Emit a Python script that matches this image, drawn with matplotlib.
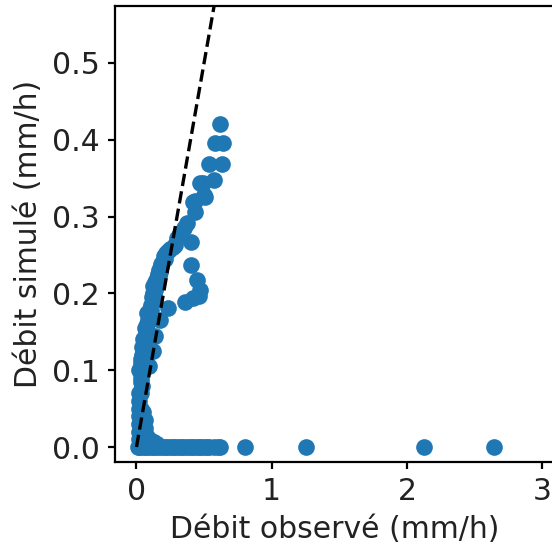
import matplotlib
matplotlib.use('Agg')
import matplotlib.pyplot as plt

# debits horaires (mm/h) lus sur le graphique
# montee de crue : branche gauche
obs_montee = [0.01, 0.02, 0.02, 0.02, 0.03, 0.02, 0.03, 0.02, 0.03, 0.04, 0.03, 0.04,
              0.02, 0.03, 0.04, 0.05, 0.04, 0.06, 0.05, 0.07, 0.06, 0.08, 0.09, 0.08,
              0.10, 0.11, 0.12, 0.13, 0.12, 0.14, 0.15, 0.16, 0.17, 0.18, 0.19, 0.21,
              0.22, 0.25, 0.285, 0.32,
              0.02, 0.02, 0.03, 0.03, 0.03, 0.04, 0.05, 0.06, 0.07, 0.075, 0.085, 0.095,
              0.105, 0.115, 0.125, 0.135, 0.145, 0.155, 0.165, 0.175, 0.185, 0.20, 0.23, 0.27]
sim_montee = [0.0, 0.01, 0.02, 0.03, 0.03, 0.05, 0.05, 0.07, 0.07, 0.08, 0.09, 0.10,
              0.10, 0.11, 0.12, 0.12, 0.13, 0.13, 0.14, 0.15, 0.155, 0.16, 0.17, 0.175,
              0.18, 0.185, 0.19, 0.20, 0.21, 0.215, 0.22, 0.225, 0.23, 0.235, 0.24, 0.245,
              0.252, 0.258, 0.263, 0.278,
              0.04, 0.06, 0.085, 0.015, 0.115, 0.105, 0.125, 0.14, 0.145, 0.16, 0.165, 0.17,
              0.178, 0.195, 0.20, 0.205, 0.21, 0.218, 0.222, 0.228, 0.238, 0.248, 0.255, 0.26]

# decrue : points en haut a droite
obs_decrue = [0.62, 0.58, 0.64, 0.54, 0.63, 0.57, 0.49, 0.47, 0.50, 0.43, 0.51, 0.42,
              0.43, 0.376, 0.40, 0.40, 0.445, 0.47, 0.46, 0.42, 0.36, 0.235, 0.174, 0.137,
              0.12, 0.09, 0.35, 0.30]
sim_decrue = [0.42, 0.396, 0.396, 0.368, 0.368, 0.347, 0.343, 0.343, 0.328, 0.32, 0.326, 0.319,
              0.306, 0.291, 0.267, 0.237, 0.217, 0.204, 0.196, 0.194, 0.189, 0.181, 0.165, 0.144,
              0.125, 0.105, 0.285, 0.272]

# periodes ou le modele ne simule presque rien
obs_nul = [0.02, 0.04, 0.06, 0.08, 0.10, 0.12, 0.14, 0.16, 0.18, 0.20, 0.22, 0.24,
           0.26, 0.28, 0.30, 0.32, 0.34, 0.36, 0.38, 0.40, 0.42, 0.44, 0.46, 0.48,
           0.50, 0.52, 0.54, 0.57, 0.60, 0.62, 0.80, 1.254, 2.129, 2.644,
           0.05, 0.06, 0.065, 0.07, 0.09, 0.11, 0.13, 0.15, 0.04, 0.08]
sim_nul = [0.0, 0.0, 0.0, 0.0, 0.0, 0.0, 0.0, 0.0, 0.0, 0.0, 0.0, 0.0,
           0.0, 0.0, 0.0, 0.0, 0.0, 0.0, 0.0, 0.0, 0.0, 0.0, 0.0, 0.0,
           0.0, 0.0, 0.0, 0.0, 0.0, 0.0, 0.0, 0.0, 0.0, 0.0,
           0.045, 0.035, 0.025, 0.015, 0.01, 0.008, 0.006, 0.004, 0.002, 0.003]

diag = [0, 1]


def plot():
    fig = plt.figure(figsize=(5.52, 5.47), dpi=100)
    ax = fig.add_axes([0.2083, 0.1554, 0.7953, 0.8336])

    obs = obs_nul + obs_montee + obs_decrue
    sim = sim_nul + sim_montee + sim_decrue
    ax.scatter(obs, sim, s=144, color='#1f77b4', linewidths=0)
    ax.plot(diag, diag, 'k--', lw=2.4)

    ax.set_xlim(-0.159, 3.088)
    ax.set_ylim(-0.0195, 0.574)
    ax.set_xticks([0, 1, 2, 3])
    ax.set_yticks([0.0, 0.1, 0.2, 0.3, 0.4, 0.5])
    ax.tick_params(labelsize=21.5, length=5, width=1.6, pad=6, labelcolor='#222222')
    for sp in ax.spines.values():
        sp.set_linewidth(1.6)
    ax.set_xlabel('Débit observé (mm/h)', fontsize=21.5, color='#222222', labelpad=6)
    ax.set_ylabel('Débit simulé (mm/h)', fontsize=21.5, color='#222222', labelpad=6)
    fig.savefig('out.png', dpi=100)


if __name__ == '__main__':
    plot()
